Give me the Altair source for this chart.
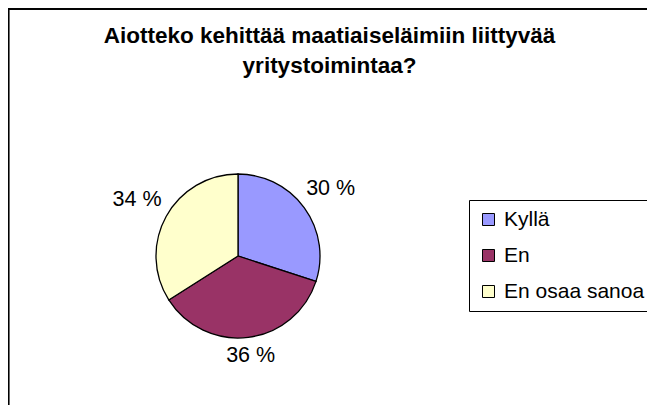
import altair as alt
import pandas as pd

categories = ["Kyllä", "En", "En osaa sanoa"]
values = [30, 36, 34]
colors = ["#9999FF", "#993366", "#FFFFCC"]
title_lines = ["Aiotteko kehittää maatiaiseläimiin liittyvää", "yritystoimintaa?"]

df = pd.DataFrame({
    "category": categories,
    "value": values,
    "ord": list(range(len(categories))),
    "label": [f"{v} %" for v in values],
})

FONT = "Liberation Sans"
W, H = 639, 397
CX, CY = 230, 248
R = 82

pie = alt.Chart(df).mark_arc(radius=R, stroke="black", strokeWidth=1.3).encode(
    theta=alt.Theta("value:Q", stack=True),
    order=alt.Order("ord:Q"),
    x=alt.value(CX),
    y=alt.value(CY),
    color=alt.Color(
        "category:N",
        scale=alt.Scale(domain=categories, range=colors),
        sort=categories,
        legend=alt.Legend(
            title=None,
            orient="none",
            legendX=461,
            legendY=192,
            direction="vertical",
            symbolType="square",
            symbolSize=144,
            symbolStrokeColor="black",
            symbolStrokeWidth=1,
            symbolOpacity=1,
            labelFont=FONT,
            labelFontSize=21,
            labelColor="black",
            labelOffset=5,
            labelLimit=300,
            rowPadding=14,
            padding=9,
            strokeColor="black",
            fillColor="white",
        ),
    ),
)

# labels placed just outside the pie: distance grows with label half-extent
labels = (
    alt.Chart(df)
    .transform_joinaggregate(total="sum(value)")
    .transform_window(cum="sum(value)", sort=[alt.SortField("ord")])
    .transform_calculate(
        mid="(datum.cum - datum.value / 2) / datum.total * 2 * PI",
    )
    .transform_calculate(
        r="89 + abs(sin(datum.mid)) * 25 + abs(cos(datum.mid)) * 9",
    )
    .mark_text(font=FONT, fontSize=21.5, color="black")
    .encode(
        theta=alt.Theta("mid:Q", scale=None),
        radius=alt.Radius("r:Q", scale=None),
        x=alt.value(CX),
        y=alt.value(CY),
        text="label:N",
    )
)

top_rule = alt.Chart(df).mark_rule(color="black", strokeWidth=1.5).encode(
    x=alt.value(0), x2=alt.value(W), y=alt.value(1)
)
left_rule = alt.Chart(df).mark_rule(color="black", strokeWidth=1.5).encode(
    x=alt.value(0.5), y=alt.value(0), y2=alt.value(H)
)

chart = (
    alt.layer(pie, labels, top_rule, left_rule)
    .resolve_scale(theta="independent", radius="independent")
    .properties(
        width=W,
        height=H,
        autosize=alt.AutoSizeParams(type="none"),
        padding=0,
        title=alt.TitleParams(
            text=title_lines,
            font=FONT,
            fontSize=22.5,
            fontWeight="bold",
            color="black",
            anchor="middle",
            orient="top",
            offset=-70,
            lineHeight=30,
            dx=2,
        ),
    )
    .configure_view(stroke=None, fill="white")
    .configure(background="white")
)

chart.save("out.html", embed_options={"renderer": "svg", "actions": False})
